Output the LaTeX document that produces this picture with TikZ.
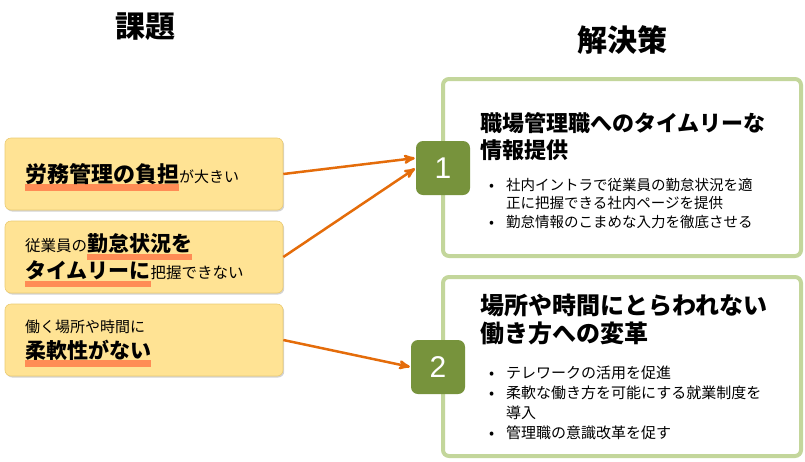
\documentclass[tikz,border=0pt]{standalone}
\usepackage{fontspec}
\setmainfont{Noto Sans CJK JP}
\newfontfamily\numfont{Liberation Sans}
\usepackage{xcolor}
\usetikzlibrary{positioning,arrows,shadows}
\definecolor{yel}{HTML}{FFE394}
\definecolor{yelb}{HTML}{EBCB72}
\definecolor{hlc}{HTML}{FF8C55}
\definecolor{arr}{HTML}{E46C0A}
\definecolor{grnb}{HTML}{C3D69B}
\definecolor{grn}{HTML}{77933C}
\newsavebox\hlbox
\newcommand\hl[1]{\leavevmode\sbox\hlbox{#1}\rlap{\smash{\color{hlc}\rule[-8.5pt]{\wd\hlbox}{6.5pt}}}\usebox\hlbox}
\newcommand\bul{\makebox[17pt][l]{•}}
\newcommand\ind{\hspace*{17pt}}

\begin{document}
\begin{tikzpicture}[x=1pt,y=-1pt,->,>=stealth',
	prob/.style={draw=yelb,line width=0.6pt,fill=yel,rounded corners=6pt,minimum height=72pt,
		text width=238pt,inner xsep=20pt,align=left,
		drop shadow={opacity=0.35,shadow xshift=1.2pt,shadow yshift=-1.5pt}},
	sol/.style={draw=grnb,line width=4pt,fill=white,rounded corners=6pt,minimum width=358pt},
	num/.style={fill=grn,rounded corners=7pt,minimum size=54pt,text=white,font=\numfont\fontsize{30}{30}\selectfont},
	head/.style={font=\bfseries\fontsize{30}{32}\selectfont},
	ttl/.style={anchor=west,inner sep=0pt,align=left},
	lst/.style={anchor=west,inner sep=0pt,align=left},
	link/.style={draw=arr,line width=2.5pt,shorten >=1pt}]
	\useasboundingbox (0,0) rectangle (805,461);

	% titles
	\node[head] (kadai) at (145,27) {課題};
	\node[head] (kaiketsu) at (622,40) {解決策};

	% problems
	\node[prob,font=\fontsize{22}{26}\selectfont] (p1) at (144,174) {\hl{\bfseries 労務管理の負担}{\fontsize{15}{18}\selectfont が大きい}};
	\node[prob,font=\fontsize{21}{27}\selectfont] (p2) at (144,257) {{\fontsize{15.5}{18}\selectfont 従業員の}\hl{\bfseries 勤怠状況を}\\
		\hl{\bfseries タイムリーに}{\fontsize{15.5}{18}\selectfont 把握できない}};
	\node[prob,font=\fontsize{21}{25.5}\selectfont] (p3) at (144,340) {{\fontsize{15}{18}\selectfont 働く場所や時間に}\\
		\hl{\bfseries 柔軟性がない}};

	% solutions
	\node[sol,minimum height=177pt] (s1) at (622,167.5) {};
	\node[sol,minimum height=179pt] (s2) at (622,366.5) {};
	\node[ttl,font=\bfseries\fontsize{22}{27}\selectfont] (t1) at (480,136.5) {職場管理職へのタイムリーな\\情報提供};
	\node[lst,font=\fontsize{14.5}{18.5}\selectfont] (l1) at (489,203.5) {\bul 社内イントラで従業員の勤怠状況を適\\
		\ind 正に把握できる社内ページを提供\\
		\bul 勤怠情報のこまめな入力を徹底させる};
	\node[ttl,font=\bfseries\fontsize{24}{28}\selectfont] (t2) at (480,319) {場所や時間にとらわれない\\働き方への変革};
	\node[lst,font=\fontsize{15}{20}\selectfont] (l2) at (489,403) {\bul テレワークの活用を促進\\
		\bul 柔軟な働き方を可能にする就業制度を\\
		\ind 導入\\
		\bul 管理職の意識改革を促す};

	\node[num] (n1) at (443,168) {1};
	\node[num] (n2) at (438,367) {2};

	% links
	\draw[link] (p1.east) -- ([yshift=10pt]n1.west);
	\draw[link] (p2.east) -- (n1.west);
	\draw[link] (p3.east) -- (n2.west);
\end{tikzpicture}
\end{document}
